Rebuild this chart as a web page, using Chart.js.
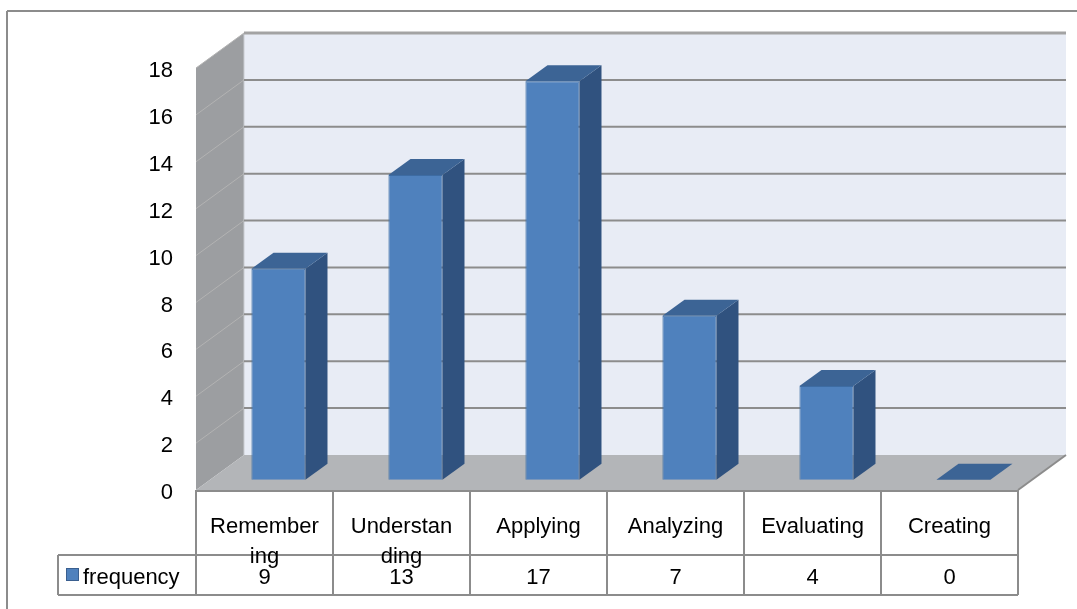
<!DOCTYPE html>
<html>
<head>
<meta charset="utf-8">
<script src="https://cdn.jsdelivr.net/npm/chart.js@4.4.0/dist/chart.umd.min.js"></script>
<style>
  body { margin: 0; background: #fff; }
  canvas { display: block; }
</style>
</head>
<body>
<canvas id="chart" width="1077" height="609"></canvas>
<script>
// values
let categories = ['Remembering', 'Understanding', 'Applying', 'Analyzing', 'Evaluating', 'Creating']
let frequency = [9, 13, 17, 7, 4, 0]
let yTicks = [0, 2, 4, 6, 8, 10, 12, 14, 16, 18]
let seriesName = 'frequency'

/* fake 3d: offset from the front plane to the back wall */
let DX = 48, DY = -35
let BAR_T0 = 0.29, BAR_T1 = 0.75
let FONT = '22px "Liberation Sans", Arial, sans-serif'

function poly(ctx, pts, fill) {
    ctx.beginPath()
    ctx.moveTo(pts[0][0], pts[0][1])
    for (let i = 1; i < pts.length; i++) ctx.lineTo(pts[i][0], pts[i][1])
    ctx.closePath()
    ctx.fillStyle = fill
    ctx.fill()
}

function line(ctx, x1, y1, x2, y2, color, w) {
    ctx.beginPath()
    ctx.moveTo(x1, y1)
    ctx.lineTo(x2, y2)
    ctx.strokeStyle = color
    ctx.lineWidth = w
    ctx.stroke()
}

function wrapText(ctx, text, maxW) {
    let lines = [], cur = ''
    for (let ch of text) {
        if (cur && ctx.measureText(cur + ch).width > maxW) { lines.push(cur); cur = ch }
        else cur += ch
    }
    lines.push(cur)
    return lines
}

let excel3d = {
    id: 'excel3d',
    beforeDatasetsDraw(chart) {
        let ctx = chart.ctx
        let a = chart.chartArea
        let ys = chart.scales.y, xs = chart.scales.x
        let xL = a.left, xR = a.right
        let yTop = ys.getPixelForValue(yTicks[yTicks.length - 1]), y0 = ys.getPixelForValue(0)

        ctx.save()
        // outer frame
        line(ctx, 7, 11, 1077, 11, '#8c8c8c', 2)
        line(ctx, 7, 11, 7, 609, '#8c8c8c', 2)

        // back wall
        poly(ctx, [[xL + DX, yTop + DY], [xR + DX, yTop + DY], [xR + DX, y0 + DY], [xL + DX, y0 + DY]], '#e8ecf5')
        // left side wall
        poly(ctx, [[xL, yTop], [xL + DX, yTop + DY], [xL + DX, y0 + DY], [xL, y0]], '#9c9ea1')
        // floor
        poly(ctx, [[xL, y0], [xR, y0], [xR + DX, y0 + DY], [xL + DX, y0 + DY]], '#b3b5b8')
        line(ctx, xL + DX, yTop + DY, xL + DX, y0 + DY, '#c9ccd1', 1)

        yTicks.forEach(v => {
            let y = ys.getPixelForValue(v)
            if (v > 0) {
                line(ctx, xL + DX, y + DY, xR + DX, y + DY, v === 18 ? '#a3a3a3' : '#8c8c8c', v === 18 ? 3 : 2)
                line(ctx, xL, y, xL + DX, y + DY, '#b3b3b3', 1)
            }
            ctx.fillStyle = '#000'
            ctx.font = FONT
            ctx.textAlign = 'right'
            ctx.textBaseline = 'middle'
            ctx.fillText(String(v), 173, y + 3)
        })
        line(ctx, xR, y0, xR + DX, y0 + DY, '#8c8c8c', 2)

        // data table
        let step = (xR - xL) / categories.length
        let rowMid = 555, rowBot = 595, legL = 58
        let grid = '#8c8c8c'
        line(ctx, xL, y0 + 1, xR, y0 + 1, grid, 2)
        line(ctx, legL, rowMid, xR, rowMid, grid, 2)
        line(ctx, legL, rowBot, xR, rowBot, grid, 2)
        line(ctx, legL, rowMid, legL, rowBot, grid, 2)
        for (let i = 0; i <= categories.length; i++) {
            let x = xL + i * step
            line(ctx, x, y0, x, rowBot, grid, 2)
        }
        ctx.fillStyle = '#000'
        ctx.font = FONT
        ctx.textAlign = 'center'
        ctx.textBaseline = 'alphabetic'
        categories.forEach((c, i) => {
            let cx = xs.getPixelForValue(i)
            let lines = wrapText(ctx, c, 111)
            lines.forEach((t, k) => ctx.fillText(t, cx, 533 + k * 30))
            ctx.fillText(String(frequency[i]), cx, 584)
        })
        // legend key
        ctx.fillStyle = '#4f81bd'
        ctx.fillRect(66, 568, 13, 13)
        ctx.strokeStyle = '#3a5f8f'
        ctx.lineWidth = 1
        ctx.strokeRect(66.5, 568.5, 12, 12)
        ctx.fillStyle = '#000'
        ctx.textAlign = 'left'
        ctx.fillText(seriesName, 83, 584)
        ctx.restore()

        // bars sit a little behind the front plane
        ctx.save()
        ctx.translate(DX * BAR_T0, DY * BAR_T0)
    },
    afterDatasetsDraw(chart) {
        let ctx = chart.ctx
        let ddx = DX * (BAR_T1 - BAR_T0), ddy = DY * (BAR_T1 - BAR_T0)
        chart.getDatasetMeta(0).data.forEach(bar => {
            let p = bar.getProps(['x', 'y', 'base', 'width'], true)
            let l = p.x - p.width / 2, r = p.x + p.width / 2
            poly(ctx, [[r, p.y], [r + ddx, p.y + ddy], [r + ddx, p.base + ddy], [r, p.base]], '#30527f')
            poly(ctx, [[l, p.y], [r, p.y], [r + ddx, p.y + ddy], [l + ddx, p.y + ddy]], '#3c6495')
        })
        ctx.restore()
    }
}

let ctx = document.querySelector('#chart').getContext('2d')

new Chart(ctx, {
    type: 'bar',
    data: {
        labels: categories,
        datasets: [
            {
                label: seriesName,
                data: frequency,
                backgroundColor: '#4f81bd',
                borderColor: '#3d6ca3',
                borderWidth: 1,
                barPercentage: 0.394,
                categoryPercentage: 1,
                clip: false
            }
        ]
    },
    options: {
        responsive: false,
        devicePixelRatio: 1,
        animation: false,
        layout: { padding: { left: 196, right: 59, top: 68, bottom: 119 } },
        scales: {
            x: { display: false },
            y: { display: false, min: 0, max: 18, ticks: { stepSize: 2 } }
        },
        plugins: {
            legend: { display: false },
            tooltip: { enabled: false }
        }
    },
    plugins: [excel3d]
})
</script>
</body>
</html>
